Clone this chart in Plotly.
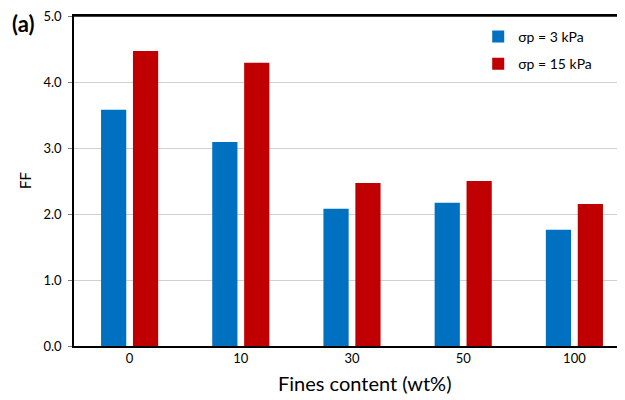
import plotly.graph_objects as go

categories = ["0", "10", "30", "50", "100"]
ff_3kpa = [3.58, 3.09, 2.08, 2.17, 1.76]
ff_15kpa = [4.47, 4.29, 2.47, 2.50, 2.15]
series_names = ["σp = 3 kPa", "σp = 15 kPa"]
y_ticks = [0.0, 1.0, 2.0, 3.0, 4.0, 5.0]

LABEL_FONT = "Lato, Open Sans, sans-serif"

fig = go.Figure()
fig.add_trace(go.Bar(x=categories, y=ff_3kpa, name=series_names[0],
                     marker=dict(color="#0070C0", line=dict(width=0)), legendgroup="a"))
fig.add_trace(go.Bar(x=categories, y=ff_15kpa, name=series_names[1],
                     marker=dict(color="#C00000", line=dict(width=0)), legendgroup="b"))

fig.update_layout(
    width=625, height=400,
    margin=dict(l=66, r=3, t=8, b=62),
    paper_bgcolor="white", plot_bgcolor="white",
    barmode="group", bargap=0.426, bargroupgap=0.21,
    showlegend=True,
    legend=dict(x=0.727, y=0.985, xanchor="left", yanchor="top",
                font=dict(family=LABEL_FONT, size=14, color="#000"),
                tracegroupgap=6, itemwidth=30, bgcolor="rgba(0,0,0,0)"),
    font=dict(family=LABEL_FONT, color="#000"),
    xaxis=dict(
        type="category", automargin=False,
        showline=True, linecolor="#000", linewidth=1.5, mirror=True,
        ticks="", tickfont=dict(family=LABEL_FONT, size=13, color="#000"),
    ),
    yaxis=dict(
        range=[0, 5], tickvals=y_ticks, tickformat=".1f", automargin=False,
        showgrid=True, gridcolor="#D0D0D0", gridwidth=1,
        showline=True, linecolor="#000", linewidth=1.5,
        ticks="outside", ticklen=4, tickcolor="#808080", ticklabelstandoff=4,
        ticklabeloverflow="allow",
        tickfont=dict(family=LABEL_FONT, size=13, color="#000"),
        zeroline=False,
    ),
    shapes=[dict(type="line", xref="paper", yref="y", x0=0, x1=1, y0=y_ticks[-1], y1=y_ticks[-1],
                 layer="above", line=dict(color="#000", width=1.5))],
    annotations=[
        dict(text="<b>(a)</b>", xref="paper", yref="paper", x=-0.0917, y=1.0 + 8 / 330,
             xanchor="center", yanchor="top", showarrow=False,
             font=dict(family=LABEL_FONT, size=22, color="#000")),
        dict(text="Fines content (wt%)", xref="paper", yref="paper", x=0.523, y=-0.112,
             xanchor="center", yanchor="middle", showarrow=False,
             font=dict(family=LABEL_FONT, size=20, color="#000")),
        dict(text="FF", xref="paper", yref="paper", x=-0.088, y=0.5, textangle=-90,
             xanchor="center", yanchor="middle", showarrow=False,
             font=dict(family=LABEL_FONT, size=15, color="#000")),
    ],
)

fig.write_html("out.html")
